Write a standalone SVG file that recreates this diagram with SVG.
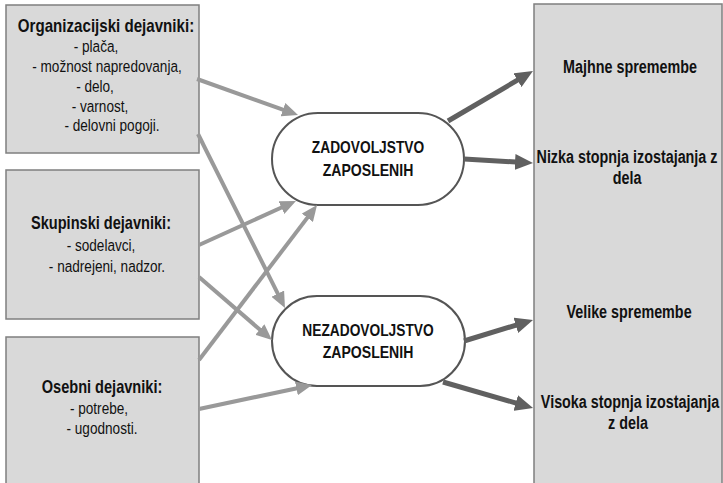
<svg xmlns="http://www.w3.org/2000/svg" width="723" height="483" viewBox="0 0 723 483">
<defs>
<style>
.box{fill:#d9d9d9;stroke:#7f7f7f;stroke-width:1.5}
.node{fill:#ffffff;stroke:#555555;stroke-width:2}
text{font-family:"Liberation Sans",Arial,sans-serif;fill:#111111;text-anchor:middle}
.r{font-size:17px}
.b{font-size:18px;font-weight:bold}
.rb{font-size:17.5px;font-weight:bold}
.nt{font-size:16px;font-weight:bold}
.in{stroke:#999999;stroke-width:4;fill:none;marker-end:url(#ah1)}
.out{stroke:#606060;stroke-width:5;fill:none;marker-end:url(#ah2)}
</style>
<marker id="ah1" markerUnits="userSpaceOnUse" markerWidth="16" markerHeight="14" refX="8" refY="7" orient="auto"><path d="M0,0 L16,7 L0,14 z" fill="#999999"/></marker>
<marker id="ah2" markerUnits="userSpaceOnUse" markerWidth="18" markerHeight="16" refX="9" refY="8" orient="auto"><path d="M0,0 L18,8 L0,16 z" fill="#606060"/></marker>
</defs>
<rect width="723" height="483" fill="#ffffff"/>

<g id="org">
<rect class="box" x="6" y="5" width="193" height="148"/>
<text class="b" transform="matrix(0.84 0 0 1 106 0)" y="32">Organizacijski dejavniki:</text>
<text class="r" transform="matrix(0.8 0 0 1 96 0)" y="52">- plača,</text>
<text class="r" transform="matrix(0.8 0 0 1 107 0)" y="72">- možnost napredovanja,</text>
<text class="r" transform="matrix(0.8 0 0 1 95 0)" y="92">- delo,</text>
<text class="r" transform="matrix(0.8 0 0 1 100 0)" y="112">- varnost,</text>
<text class="r" transform="matrix(0.8 0 0 1 112 0)" y="131">- delovni pogoji.</text>
</g>

<g id="skup">
<rect class="box" x="6" y="170" width="193" height="149"/>
<text class="b" transform="matrix(0.81 0 0 1 101 0)" y="229">Skupinski dejavniki:</text>
<text class="r" transform="matrix(0.8 0 0 1 101 0)" y="251">- sodelavci,</text>
<text class="r" transform="matrix(0.8 0 0 1 107 0)" y="272">- nadrejeni, nadzor.</text>
</g>

<g id="oseb">
<rect class="box" x="6" y="337" width="193" height="160"/>
<text class="b" transform="matrix(0.81 0 0 1 102 0)" y="393">Osebni dejavniki:</text>
<text class="r" transform="matrix(0.8 0 0 1 99 0)" y="414">- potrebe,</text>
<text class="r" transform="matrix(0.8 0 0 1 102 0)" y="434">- ugodnosti.</text>
</g>

<g id="posledice">
<rect class="box" x="534" y="4" width="188" height="495"/>
<text class="rb" transform="matrix(0.82 0 0 1 630 0)" y="73">Majhne spremembe</text>
<text class="rb" transform="matrix(0.82 0 0 1 627 0)" y="163">Nizka stopnja izostajanja z</text>
<text class="rb" transform="matrix(0.82 0 0 1 627 0)" y="184">dela</text>
<text class="rb" transform="matrix(0.82 0 0 1 629 0)" y="318">Velike spremembe</text>
<text class="rb" transform="matrix(0.82 0 0 1 630 0)" y="408">Visoka stopnja izostajanja</text>
<text class="rb" transform="matrix(0.82 0 0 1 628 0)" y="429">z dela</text>
</g>

<g id="zadovoljstvo">
<rect class="node" x="272" y="113" width="192" height="92" rx="46" ry="46"/>
<text class="nt" transform="matrix(0.86 0 0 1 368 0)" y="153">ZADOVOLJSTVO</text>
<text class="nt" transform="matrix(0.88 0 0 1 368 0)" y="176">ZAPOSLENIH</text>
</g>

<g id="nezadovoljstvo">
<rect class="node" x="272" y="296" width="193" height="90" rx="45" ry="45"/>
<text class="nt" transform="matrix(0.86 0 0 1 368 0)" y="336">NEZADOVOLJSTVO</text>
<text class="nt" transform="matrix(0.88 0 0 1 368 0)" y="358">ZAPOSLENIH</text>
</g>

<g id="connectors">
<line class="in" x1="197" y1="79" x2="290.5" y2="112.3"/>
<line class="in" x1="198" y1="134" x2="281.4" y2="300.8"/>
<line class="in" x1="199" y1="245" x2="288.7" y2="204.3"/>
<line class="in" x1="199" y1="277" x2="265.9" y2="334.8"/>
<line class="in" x1="199" y1="360" x2="312.2" y2="211.4"/>
<line class="in" x1="199" y1="409" x2="304.2" y2="386.7"/>
<line class="out" x1="448" y1="121" x2="525.2" y2="75.6"/>
<line class="out" x1="464" y1="159" x2="524.0" y2="162.5"/>
<line class="out" x1="464" y1="341" x2="524.4" y2="322.6"/>
<line class="out" x1="443" y1="382" x2="524.4" y2="405.5"/>
</g>
</svg>
